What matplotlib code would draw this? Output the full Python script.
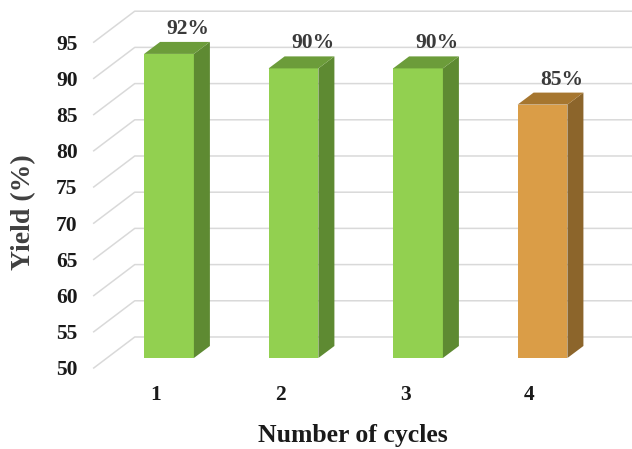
import matplotlib.pyplot as plt
import matplotlib.transforms as mtransforms
from matplotlib.patches import Polygon

cycles = ["1", "2", "3", "4"]
yields = [92, 90, 90, 85]
front_colors = ["#92D050", "#92D050", "#92D050", "#DA9D47"]
side_colors = ["#5E8A32", "#5E8A32", "#5E8A32", "#8C652B"]
top_colors = ["#6C9C3A", "#6C9C3A", "#6C9C3A", "#A6762F"]
yticks = [50, 55, 60, 65, 70, 75, 80, 85, 90, 95]

plt.rcParams['font.family'] = ['Liberation Serif', 'DejaVu Serif']

fig = plt.figure(figsize=(6.32, 4.49), dpi=100)
# bar plane of the pseudo-3d box
ax = fig.add_axes([0.1689, 0.2027, 0.788, 0.7256])
ax.set_xlim(-0.5, 3.5)
ax.set_ylim(50, 95)
for s in ax.spines.values():
    s.set_visible(False)

# pixel -> data conversion for the depth offsets
ax_w = 0.788 * 632
ax_h = 0.7256 * 449
px_x = 4 / ax_w
px_y = 45 / ax_h

# floor/wall depth (pixels): front edge and back wall relative to bar plane
front_dx, front_dy = -13, -10
back_dx, back_dy = 28, 21
bar_dx, bar_dy = 16, 12
bar_w = 0.40

# gridlines: diagonal on the left wall, horizontal on the back wall
for v in yticks:
    xs = [-0.5 + front_dx * px_x, -0.5 + back_dx * px_x, 3.5 + back_dx * px_x]
    ys = [v + front_dy * px_y, v + back_dy * px_y, v + back_dy * px_y]
    ax.plot(xs, ys, color="#D9D9D9", lw=1.1, clip_on=False, zorder=1)

x = list(range(len(cycles)))
ax.bar(x, [v - 50 for v in yields], bottom=50, width=bar_w,
       color=front_colors, zorder=3, clip_on=False)

for i, v in enumerate(yields):
    l, r = i - bar_w / 2, i + bar_w / 2
    ox, oy = bar_dx * px_x, bar_dy * px_y
    side = Polygon([(r, 50), (r, v), (r + ox, v + oy), (r + ox, 50 + oy)],
                   closed=True, facecolor=side_colors[i], edgecolor="none",
                   zorder=3, clip_on=False)
    top = Polygon([(l, v), (r, v), (r + ox, v + oy), (l + ox, v + oy)],
                  closed=True, facecolor=top_colors[i], edgecolor="none",
                  zorder=3, clip_on=False)
    ax.add_patch(side)
    ax.add_patch(top)
    ax.text(i + 19 * px_x, v + 15 * px_y, f"{v}%", ha="center", va="bottom",
            fontsize=15.5, fontweight="bold", color="#3A3A3A", zorder=4)

ax.set_yticks(yticks)
ax.set_xticks(x)
ax.set_xticklabels(cycles)
ax.tick_params(length=0, labelsize=15.5, labelcolor="#1A1A1A")
ax.tick_params(axis="y", pad=21)
ax.tick_params(axis="x", pad=12)
ax.grid(False)

# tick labels sit on the front edge of the box
shift = mtransforms.ScaledTranslation(front_dx / 100, front_dy / 100, fig.dpi_scale_trans)
for lab in ax.get_yticklabels():
    lab.set_fontweight("bold")
    lab.set_transform(lab.get_transform() + mtransforms.ScaledTranslation(0, front_dy / 100, fig.dpi_scale_trans))
for lab in ax.get_xticklabels():
    lab.set_fontweight("bold")
    lab.set_transform(lab.get_transform() + shift)

fig.text(0.558, 0.029, "Number of cycles", ha="center", va="center",
         fontsize=18.5, fontweight="bold", color="#1A1A1A")
fig.text(0.038, 0.528, "Yield (%)", ha="center", va="center", rotation=90,
         fontsize=20, fontweight="bold", color="#404040")

fig.savefig("out.png", dpi=100)
